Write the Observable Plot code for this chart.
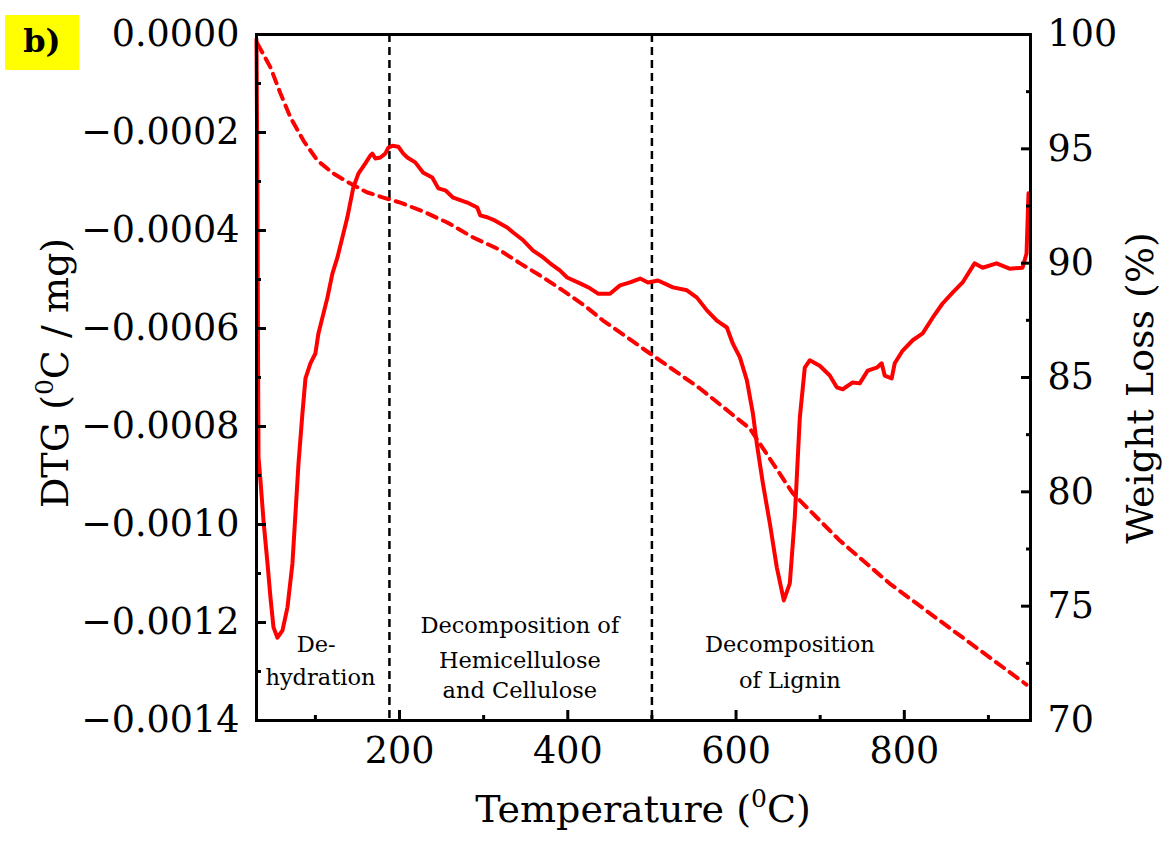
<!DOCTYPE html>
<html><head><meta charset="utf-8">
<script src="https://cdn.jsdelivr.net/npm/d3@7"></script>
<script src="https://cdn.jsdelivr.net/npm/@observablehq/plot@0.6"></script>
<style>body{margin:0;background:#fff;}</style>
</head><body><div id="chart"></div>
<script>
// DTG curve (solid): temperature (°C) and DTG (°C / mg)
const dtgTemp = [30, 31.2, 31.8, 32.4, 34.7, 38.3, 43.1, 46.6, 50.2, 54.9, 60.9, 66.8, 72.7, 76.3, 79.9, 84.6, 88.2, 94.1, 100, 103.6, 114.3, 120.2, 126.2, 132.1, 138, 145.1, 151.1, 159.4, 165.3, 167.7, 171.3, 177.2, 183.1, 186.7, 191.4, 198.6, 204.5, 209.3, 218.7, 228.2, 238.9, 246.1, 254.4, 263.9, 280.5, 292.4, 295.9, 304.2, 313.7, 328, 335.1, 347, 358.8, 370.7, 379, 390.9, 399.2, 414.6, 426.5, 436, 450.2, 462.1, 474, 485.9, 495.3, 507.2, 525, 541.6, 553.5, 565.4, 577.2, 589.1, 596.2, 604.6, 612.9, 620, 624.7, 631.9, 640.2, 648.5, 656.8, 663.9, 669.8, 675.8, 681.7, 687.6, 699.5, 711.4, 719.7, 726.8, 738.7, 747, 756.5, 767.2, 773.1, 776.7, 785, 788.6, 798.1, 810, 821.8, 833.7, 845.5, 857.4, 869.3, 883.5, 893, 909.6, 925.1, 940.5, 945.3, 947.6];
const dtgValue = [-0.1e-4, -3.39e-4, -6.45e-4, -8.63e-4, -9.10e-4, -9.92e-4, -10.80e-4, -11.49e-4, -12.10e-4, -12.31e-4, -12.16e-4, -11.69e-4, -10.80e-4, -9.78e-4, -8.76e-4, -7.73e-4, -7.02e-4, -6.71e-4, -6.51e-4, -6.10e-4, -5.37e-4, -4.88e-4, -4.55e-4, -4.14e-4, -3.73e-4, -3.12e-4, -2.84e-4, -2.63e-4, -2.47e-4, -2.43e-4, -2.53e-4, -2.51e-4, -2.43e-4, -2.31e-4, -2.27e-4, -2.29e-4, -2.43e-4, -2.51e-4, -2.61e-4, -2.82e-4, -2.92e-4, -3.14e-4, -3.18e-4, -3.33e-4, -3.43e-4, -3.53e-4, -3.69e-4, -3.73e-4, -3.80e-4, -3.94e-4, -4.04e-4, -4.20e-4, -4.41e-4, -4.55e-4, -4.67e-4, -4.82e-4, -4.96e-4, -5.08e-4, -5.18e-4, -5.29e-4, -5.29e-4, -5.12e-4, -5.06e-4, -4.98e-4, -5.06e-4, -5.02e-4, -5.16e-4, -5.22e-4, -5.37e-4, -5.63e-4, -5.84e-4, -5.98e-4, -6.31e-4, -6.59e-4, -7.06e-4, -7.73e-4, -8.35e-4, -9.16e-4, -9.98e-4, -10.88e-4, -11.55e-4, -11.20e-4, -9.86e-4, -7.82e-4, -6.80e-4, -6.65e-4, -6.76e-4, -6.96e-4, -7.20e-4, -7.24e-4, -7.10e-4, -7.12e-4, -6.86e-4, -6.80e-4, -6.71e-4, -6.96e-4, -7.02e-4, -6.71e-4, -6.45e-4, -6.24e-4, -6.10e-4, -5.78e-4, -5.49e-4, -5.27e-4, -5.06e-4, -4.67e-4, -4.76e-4, -4.67e-4, -4.78e-4, -4.76e-4, -4.47e-4, -3.24e-4];

// Weight loss curve (dashed): temperature (°C) and weight (%)
const wlTemp = [31.2, 46.6, 58.5, 70.4, 85.8, 102.4, 121.4, 141.6, 161.8, 180.8, 200.9, 228.2, 256.7, 287.6, 316.1, 343.4, 367.1, 394.4, 422.9, 441.9, 497.7, 557.1, 616.4, 667.5, 723.3, 782.6, 842, 901.3, 945.2];
const wlValue = [99.6, 98.56, 97.42, 96.37, 95.36, 94.49, 93.92, 93.48, 93.09, 92.87, 92.65, 92.26, 91.78, 91.12, 90.64, 89.99, 89.46, 88.80, 88.06, 87.49, 86.05, 84.52, 82.77, 79.93, 77.87, 75.99, 74.37, 72.76, 71.57];

// Scales and ticks
const tempDomain = [30, 950];
const dtgDomain = [-0.0014, 0];
const wlDomain = [70, 100];
const tempMajorTicks = [200, 400, 600, 800];
const tempMinorTicks = [100, 300, 500, 700, 900];
const dtgMajorTicks = [0, -0.0002, -0.0004, -0.0006, -0.0008, -0.0010, -0.0012, -0.0014];
const dtgMinorTicks = [-0.0001, -0.0003, -0.0005, -0.0007, -0.0009, -0.0011, -0.0013];
const wlMajorTicks = [70, 75, 80, 85, 90, 95, 100];
const wlMinorTicks = [72.5, 77.5, 82.5, 87.5, 92.5, 97.5];

// Region boundaries and labels
const regionBounds = [188, 500];
const labelText = ["De-", "hydration", "Decomposition of", "Hemicellulose", "and Cellulose", "Decomposition", "of Lignin"];
const labelTemp = [101, 106, 343, 343, 343, 664, 664];
const labelDtg = [-0.00126, -0.001327, -0.001222, -0.001292, -0.001355, -0.00126, -0.001333];

const wlToDtg = d3.scaleLinear().domain(wlDomain).range(dtgDomain);
const dtgData = dtgTemp.map((t, i) => ({t, v: dtgValue[i]}));
const wlData = wlTemp.map((t, i) => ({t, w: wlValue[i]}));
const labelData = labelText.map((s, i) => ({s, t: labelTemp[i], v: labelDtg[i]}));

const FONT = "DejaVu Serif";
const RED = "#ff0000";
const TICKFS = 36.5;

const plot = Plot.plot({
  width: 1164, height: 844,
  marginLeft: 256, marginRight: 134, marginTop: 34, marginBottom: 124,
  style: {fontFamily: FONT, background: "white", color: "black", overflow: "visible"},
  x: {domain: tempDomain, axis: null},
  y: {domain: dtgDomain, axis: null},
  marks: [
    Plot.ruleX(regionBounds, {stroke: "black", strokeWidth: 2.5, strokeDasharray: "8,5"}),
    Plot.line(wlData, {x: "t", y: d => wlToDtg(d.w), stroke: RED, strokeWidth: 4, strokeDasharray: "10,7"}),
    Plot.line(dtgData, {x: "t", y: "v", stroke: RED, strokeWidth: 4}),
    Plot.text(labelData, {x: "t", y: "v", text: "s", fontSize: 22.5, lineAnchor: "bottom", textAnchor: "middle", fill: "black"}),
    // left axis
    Plot.axisY({anchor: "left", ticks: dtgMajorTicks, tickSize: -10, text: null, label: null, strokeWidth: 3}),
    Plot.axisY({anchor: "left", ticks: dtgMinorTicks, tickSize: -5, text: null, label: null, strokeWidth: 3}),
    Plot.axisY({anchor: "left", ticks: dtgMajorTicks, tickSize: 0, tickPadding: 17, tickFormat: d3.format(".4f"), fontSize: TICKFS, label: null}),
    // right axis
    Plot.axisY({anchor: "right", ticks: wlMajorTicks.map(wlToDtg), tickSize: -10, text: null, label: null, strokeWidth: 3}),
    Plot.axisY({anchor: "right", ticks: wlMinorTicks.map(wlToDtg), tickSize: -5, text: null, label: null, strokeWidth: 3}),
    Plot.axisY({anchor: "right", ticks: wlMajorTicks.map(wlToDtg), tickSize: 0, tickPadding: 17, tickFormat: d => String(Math.round(wlToDtg.invert(d))), fontSize: TICKFS, label: null}),
    // bottom axis
    Plot.axisX({anchor: "bottom", ticks: tempMajorTicks, tickSize: -10, text: null, label: null, strokeWidth: 3}),
    Plot.axisX({anchor: "bottom", ticks: tempMinorTicks, tickSize: -5, text: null, label: null, strokeWidth: 3}),
    Plot.axisX({anchor: "bottom", ticks: tempMajorTicks, tickSize: 0, tickPadding: 17, tickFormat: "d", fontSize: TICKFS, label: null}),
    Plot.frame({stroke: "black", strokeWidth: 3})
  ]
});

document.getElementById("chart").appendChild(plot);

// Titles with superscripts
const svg = d3.select(plot);
function title(parts, attrs) {
  const t = svg.append("text").attr("font-family", FONT).attr("font-size", 38).attr("fill", "black").attr("text-anchor", "middle");
  for (const [k, v] of Object.entries(attrs)) t.attr(k, v);
  for (const p of parts) {
    const ts = t.append("tspan").text(p.s);
    if (p.sup) ts.attr("font-size", 25).attr("dy", -15);
    if (p.after) ts.attr("dy", 15);
  }
}
title([{s: "DTG ("}, {s: "0", sup: true}, {s: "C / mg)", after: true}], {transform: "translate(68,373) rotate(-90)"});
title([{s: "Weight Loss (%)"}], {transform: "translate(1153,388) rotate(-90)"});
title([{s: "Temperature ("}, {s: "0", sup: true}, {s: "C)", after: true}], {x: 643, y: 822});

// panel tag
svg.append("rect").attr("x", 5).attr("y", 15).attr("width", 74).attr("height", 55).attr("fill", "#ffff00");
svg.append("text").attr("x", 42).attr("y", 52).attr("text-anchor", "middle")
  .attr("font-family", FONT).attr("font-weight", "bold").attr("font-size", 32).attr("fill", "black").text("b)");
</script>
</body></html>
